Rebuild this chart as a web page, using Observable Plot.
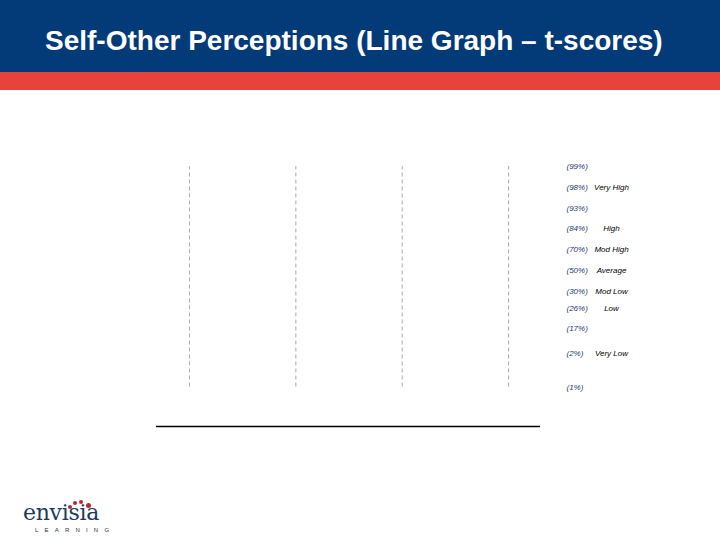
<!DOCTYPE html>
<html>
<head>
<meta charset="utf-8">
<script src="https://cdn.jsdelivr.net/npm/d3@7"></script>
<script src="https://cdn.jsdelivr.net/npm/@observablehq/plot@0.6"></script>
<style>
  html, body { margin: 0; padding: 0; background: #fff; }
  body { width: 720px; height: 540px; overflow: hidden; position: relative; font-family: "Liberation Sans", Arial, sans-serif; }
  #hdr { height: 72px; background: #033a78; position: relative; }
  #hdr h1 { position: absolute; left: 45px; top: 25px; margin: 0; color: #fff; font-size: 28px; line-height: 32px; font-weight: bold; letter-spacing: 0; white-space: nowrap; }
  #stripe { height: 18px; background: #e8433a; }
  #chart svg { display: block; }
  #logo { position: absolute; left: 23px; top: 494px; width: 100px; height: 44px; }
  #logo .word { position: absolute; left: 0; top: 6px; font-family: "DejaVu Serif", "Liberation Serif", serif; font-size: 22px; color: #1c3a63; letter-spacing: -0.3px; }
  #logo .sub { position: absolute; left: 12px; top: 33px; font-size: 6px; color: #333; letter-spacing: 6.2px; }
  #logo .dot { position: absolute; width: 4px; height: 4px; border-radius: 50%; background: #b8292f; }
</style>
</head>
<body>
<div id="hdr"><h1>Self-Other Perceptions (Line Graph – t-scores)</h1></div>
<div id="stripe"></div>
<div id="chart"></div>
<div id="logo">
  <span class="dot" style="left:45px;top:11px"></span>
  <span class="dot" style="left:50px;top:7px"></span>
  <span class="dot" style="left:56px;top:6px"></span>
  <span class="dot" style="left:63px;top:9px;width:5px;height:5px"></span>
  <div class="word">envisia</div>
  <div class="sub">LEARNING</div>
</div>
<script>
const columns = [1, 2, 3, 4];
const pctLabels = ["(99%)", "(98%)", "(93%)", "(84%)", "(70%)", "(50%)", "(30%)", "(26%)", "(17%)", "(2%)", "(1%)"];
const pctT = [75, 70, 65, 60, 55, 50, 45, 41, 36, 30, 22];
const bandLabels = ["Very High", "High", "Mod High", "Average", "Mod Low", "Low", "Very Low"];
const bandT = [70, 60, 55, 50, 45, 41, 30];
const gridT = [22, 75];
const baseT = 12.5;

const pctData = pctLabels.map((t, i) => ({text: t, y: pctT[i]}));
const bandData = bandLabels.map((t, i) => ({text: t, y: bandT[i]}));

const chart = Plot.plot({
  width: 720,
  height: 360,
  marginLeft: 156,
  marginRight: 180,
  marginTop: 76,
  marginBottom: 24,
  style: {fontFamily: "'Liberation Sans', Arial, sans-serif", background: "transparent"},
  x: {domain: [0.69, 4.3], axis: null},
  y: {domain: [baseT, 75], axis: null},
  marks: [
    Plot.ruleX(columns, {x: d => d, y1: gridT[0], y2: gridT[1], stroke: "#aaaaaa", strokeWidth: 1, strokeDasharray: "4,3"}),
    Plot.ruleY([baseT], {stroke: "#000", strokeWidth: 1.5}),
    Plot.text(pctData, {y: "y", text: "text", frameAnchor: "right", dx: 26, textAnchor: "start", fill: "#1c3a6e", fontSize: 8, fontStyle: "italic"}),
    Plot.text(bandData, {y: "y", text: "text", frameAnchor: "right", dx: 71, textAnchor: "middle", fill: "#000", fontSize: 8, fontStyle: "italic"})
  ]
});
document.getElementById("chart").appendChild(chart);
</script>
</body>
</html>
